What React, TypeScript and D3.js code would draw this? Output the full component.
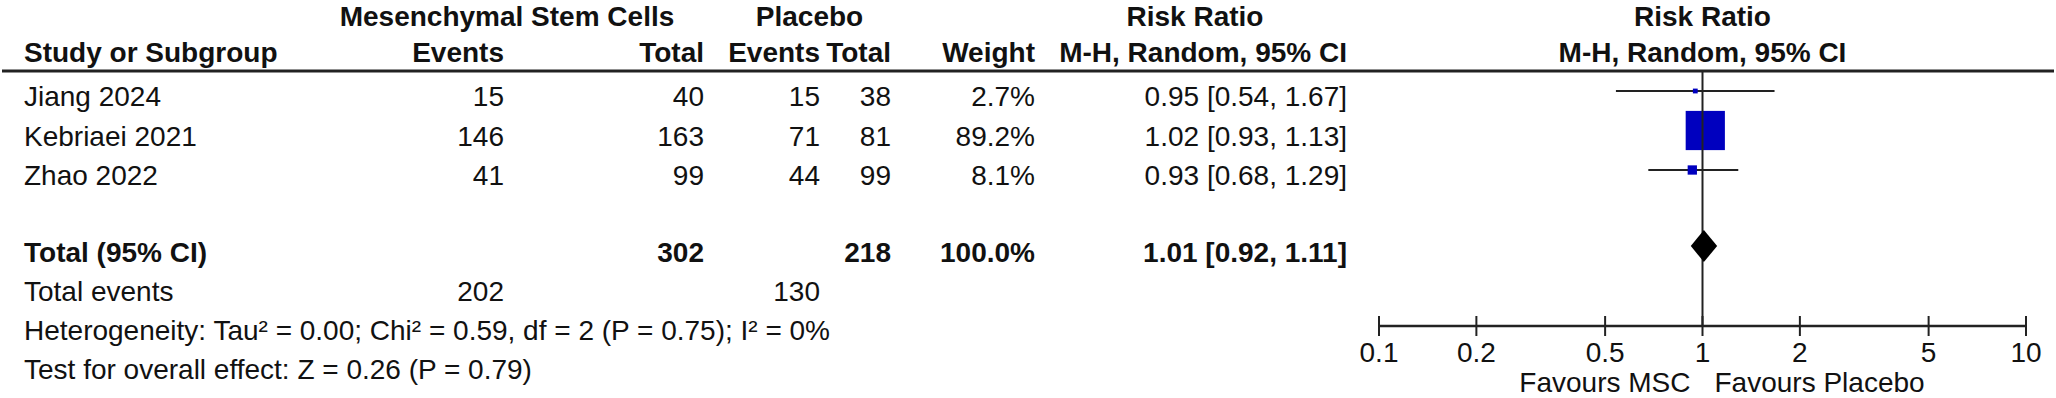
import React from 'react';
import * as d3 from 'd3';

// forest plot: MSC vs placebo, risk ratio (M-H, random)

const studies = ['Jiang 2024', 'Kebriaei 2021', 'Zhao 2022'];
const mscEvents = [15, 146, 41];
const mscTotal = [40, 163, 99];
const plcEvents = [15, 71, 44];
const plcTotal = [38, 81, 99];
const weights = [2.7, 89.2, 8.1];
const rr = [0.95, 1.02, 0.93];
const ciLow = [0.54, 0.93, 0.68];
const ciHigh = [1.67, 1.13, 1.29];

const pooled = [1.01, 0.92, 1.11]; // estimate, low, high
const groupTotals = [302, 218];
const groupEvents = [202, 130];
const totalWeight = 100;

const axisTicks = [0.1, 0.2, 0.5, 1, 2, 5, 10];
const heterogeneity = 'Heterogeneity: Tau\u00B2 = 0.00; Chi\u00B2 = 0.59, df = 2 (P = 0.75); I\u00B2 = 0%';
const overallEffect = 'Test for overall effect: Z = 0.26 (P = 0.79)';

const W = 2056;
const H = 398;
const FONT = 'Arial, "Liberation Sans", sans-serif';
const INK = '#111';

// right edges of the table columns
const col = {
  name: 24,
  mscEv: 504,
  mscTot: 704,
  plcEv: 820,
  plcTot: 891,
  weight: 1035,
  rr: 1347,
};

const fmt2 = d3.format('.2f');
const fmtW = (v: number) => d3.format('.1f')(v) + '%';
const ciText = (e: number, l: number, h: number) => `${fmt2(e)} [${fmt2(l)}, ${fmt2(h)}]`;

const T = ({ x, y, anchor = 'start', bold = false, children }: any) => (
  <text
    x={x}
    y={y}
    textAnchor={anchor}
    fontFamily={FONT}
    fontSize={28}
    fontWeight={bold ? 'bold' : 'normal'}
    fill={INK}
  >
    {children}
  </text>
);

export default function App() {
  const x = d3.scaleLog().domain([0.1, 10]).range([1379, 2026]);
  const y = d3.scalePoint<string>().domain(studies).range([91, 170]);
  const box = d3.scalePow().exponent(0.6).domain([0, 100]).range([0, 42]);

  const headerLine = 71;
  const axisY = 326;
  const totalY = 246;
  const plotMid = (x.range()[0] + x.range()[1]) / 2;
  const rrMid = 1195;

  // text baselines below the marks
  const lineGap = 39;
  const totalBase = 262;

  const diamond = d3.line()([
    [x(pooled[1]), totalY],
    [x(pooled[0]), totalY - 16],
    [x(pooled[2]), totalY],
    [x(pooled[0]), totalY + 16],
  ]) + 'Z';

  return (
    <svg width={W} height={H} style={{ position: 'absolute', left: 0, top: 0, background: '#fff' }}>
      {/* header */}
      <T x={507} y={26} anchor="middle" bold>Mesenchymal Stem Cells</T>
      <T x={(col.plcEv - 92 + col.plcTot) / 2} y={26} anchor="middle" bold>Placebo</T>
      <T x={rrMid} y={26} anchor="middle" bold>Risk Ratio</T>
      <T x={plotMid} y={26} anchor="middle" bold>Risk Ratio</T>

      <T x={col.name} y={62} bold>Study or Subgroup</T>
      <T x={col.mscEv} y={62} anchor="end" bold>Events</T>
      <T x={col.mscTot} y={62} anchor="end" bold>Total</T>
      <T x={col.plcEv} y={62} anchor="end" bold>Events</T>
      <T x={col.plcTot} y={62} anchor="end" bold>Total</T>
      <T x={col.weight} y={62} anchor="end" bold>Weight</T>
      <T x={col.rr} y={62} anchor="end" bold>M-H, Random, 95% CI</T>
      <T x={plotMid} y={62} anchor="middle" bold>M-H, Random, 95% CI</T>

      <line x1={2} x2={W - 2} y1={headerLine} y2={headerLine} stroke="#222" strokeWidth={3} />

      {/* study rows */}
      {studies.map((s, i) => {
        const cy = y(s) as number;
        const ty = cy + 15;
        const b = box(weights[i]);
        return (
          <g key={s}>
            <T x={col.name} y={ty}>{s}</T>
            <T x={col.mscEv} y={ty} anchor="end">{mscEvents[i]}</T>
            <T x={col.mscTot} y={ty} anchor="end">{mscTotal[i]}</T>
            <T x={col.plcEv} y={ty} anchor="end">{plcEvents[i]}</T>
            <T x={col.plcTot} y={ty} anchor="end">{plcTotal[i]}</T>
            <T x={col.weight} y={ty} anchor="end">{fmtW(weights[i])}</T>
            <T x={col.rr} y={ty} anchor="end">{ciText(rr[i], ciLow[i], ciHigh[i])}</T>
            <line x1={x(ciLow[i])} x2={x(ciHigh[i])} y1={cy} y2={cy} stroke="#222" strokeWidth={2} />
            <rect x={x(rr[i]) - b / 2} y={cy - b / 2} width={b} height={b} fill="#0000bf" />
          </g>
        );
      })}

      {/* total row */}
      <T x={col.name} y={totalBase} bold>Total (95% CI)</T>
      <T x={col.mscTot} y={totalBase} anchor="end" bold>{groupTotals[0]}</T>
      <T x={col.plcTot} y={totalBase} anchor="end" bold>{groupTotals[1]}</T>
      <T x={col.weight} y={totalBase} anchor="end" bold>{fmtW(totalWeight)}</T>
      <T x={col.rr} y={totalBase} anchor="end" bold>{ciText(pooled[0], pooled[1], pooled[2])}</T>

      <T x={col.name} y={totalBase + lineGap}>Total events</T>
      <T x={col.mscEv} y={totalBase + lineGap} anchor="end">{groupEvents[0]}</T>
      <T x={col.plcEv} y={totalBase + lineGap} anchor="end">{groupEvents[1]}</T>
      <T x={col.name} y={totalBase + lineGap * 2}>{heterogeneity}</T>
      <T x={col.name} y={totalBase + lineGap * 3}>{overallEffect}</T>

      {/* null line */}
      <line x1={x(1)} x2={x(1)} y1={headerLine} y2={axisY} stroke="#222" strokeWidth={2} />
      <path d={diamond} fill="#000" />

      {/* axis */}
      <line x1={x(0.1)} x2={x(10)} y1={axisY} y2={axisY} stroke="#222" strokeWidth={2.5} />
      {axisTicks.map((t) => (
        <g key={t}>
          <line x1={x(t)} x2={x(t)} y1={axisY - 10} y2={axisY + 10} stroke="#222" strokeWidth={2} />
          <T x={x(t)} y={362} anchor="middle">{String(t)}</T>
        </g>
      ))}
      <T x={x(1) - 12} y={392} anchor="end">Favours MSC</T>
      <T x={x(1) + 12} y={392}>Favours Placebo</T>
    </svg>
  );
}
